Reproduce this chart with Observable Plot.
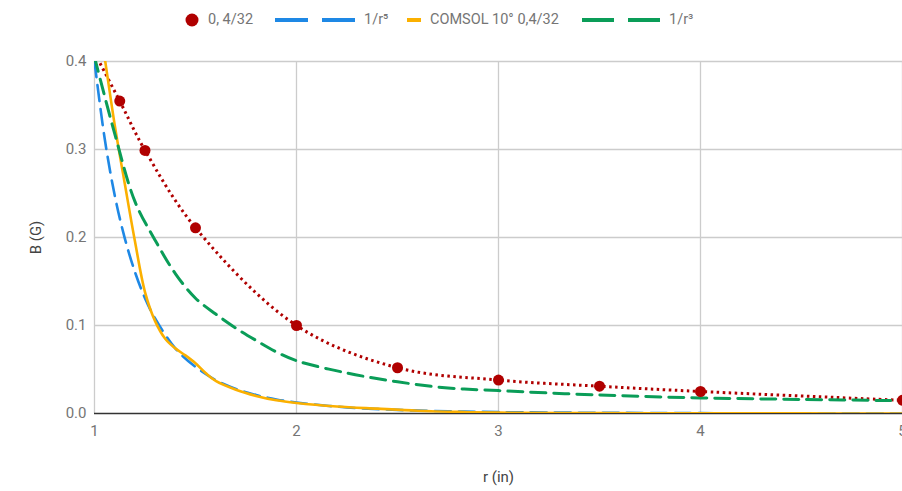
<!DOCTYPE html>
<html>
<head>
<meta charset="utf-8">
<script src="https://cdn.jsdelivr.net/npm/d3@7"></script>
<script src="https://cdn.jsdelivr.net/npm/@observablehq/plot@0.6"></script>
<style>
  html, body { margin: 0; padding: 0; background: #fff; }
  #wrap { position: relative; width: 902px; height: 491px; font-family: Roboto, sans-serif; }
  #legend { position: absolute; left: 0; top: 0; width: 902px; height: 40px; }
  .item { position: absolute; top: 11px; height: 18px; font-size: 14.5px; color: #757575; line-height: 18px; white-space: nowrap; }
  svg [aria-label="x-axis label"] text, svg [aria-label="y-axis label"] text { fill: #444; }
</style>
</head>
<body>
<div id="wrap">
  <div id="chart"></div>
  <div id="legend"></div>
</div>
<script>
// Measured series (red markers)
const rPoints = [1, 1.125, 1.25, 1.5, 2, 2.5, 3, 3.5, 4, 5];
const bPoints = [0.41, 0.355, 0.299, 0.211, 0.100, 0.052, 0.038, 0.031, 0.025, 0.015];

// 1/r^5 curve (blue dashed)
const rBlue = [1, 1.05, 1.1, 1.15, 1.2, 1.25, 1.3, 1.4, 1.5, 1.6, 1.7, 1.8, 1.9, 2, 2.25, 2.5, 2.75, 3, 3.5, 4, 4.5, 5];
const bBlue = [0.400, 0.313, 0.248, 0.199, 0.161, 0.131, 0.108, 0.074, 0.053, 0.038, 0.028, 0.021, 0.016, 0.0125, 0.0069, 0.0041, 0.0025, 0.0016, 0.0008, 0.0004, 0.0002, 0.0001];

// COMSOL curve (orange solid)
const rOrange = [1, 1.05, 1.1, 1.15, 1.2, 1.25, 1.3, 1.35, 1.4, 1.45, 1.5, 1.55, 1.6, 1.7, 1.8, 1.9, 2, 2.2, 2.4, 2.6, 2.8, 3, 3.5, 4, 4.5, 5];
const bOrange = [0.48, 0.405, 0.328, 0.261, 0.196, 0.138, 0.105, 0.085, 0.074, 0.066, 0.057, 0.046, 0.037, 0.027, 0.020, 0.015, 0.012, 0.008, 0.0055, 0.0032, 0.0018, 0.001, 0.0004, 0.0002, 0.0001, 0];

// 1/r^3 curve (green dashed)
const rGreen = [1, 1.1, 1.2, 1.3, 1.4, 1.5, 1.6, 1.7, 1.8, 1.9, 2, 2.25, 2.5, 2.75, 3, 3.5, 4, 4.5, 5];
const bGreen = [0.405, 0.318, 0.241, 0.197, 0.159, 0.131, 0.113, 0.097, 0.083, 0.070, 0.060, 0.046, 0.036, 0.029, 0.026, 0.021, 0.0177, 0.016, 0.0145];

const xTicks = [1, 2, 3, 4, 5];
const yTicks = [0, 0.1, 0.2, 0.3, 0.4];

const seriesNames = ["0, 4/32", "1/r\u2075", "COMSOL 10\u00b0 0,4/32", "1/r\u00b3"];
const seriesColors = ["#b00000", "#1e88e5", "#fbb000", "#0a9d58"];

const zip = (xs, ys) => xs.map((x, i) => ({r: x, b: ys[i]}));
const red = zip(rPoints, bPoints);
const blue = zip(rBlue, bBlue);
const orange = zip(rOrange, bOrange);
const green = zip(rGreen, bGreen);

const chart = Plot.plot({
  width: 902,
  height: 491,
  marginTop: 61,
  marginBottom: 78,
  marginLeft: 94,
  marginRight: 0,
  style: {fontFamily: "Roboto, sans-serif", fontSize: "15px", color: "#757575", background: "transparent", overflow: "visible"},
  x: {domain: [1, 5]},
  y: {domain: [0, 0.4]},
  marks: [
    Plot.gridX(xTicks, {stroke: "#cccccc", strokeOpacity: 1, strokeWidth: 1.3}),
    Plot.gridY(yTicks.slice(1), {stroke: "#cccccc", strokeOpacity: 1, strokeWidth: 1.3}),
    Plot.axisX(xTicks, {tickSize: 0, tickPadding: 12, tickFormat: d3.format("d"), label: "r (in)", labelAnchor: "center", labelOffset: 68, labelArrow: "none"}),
    Plot.axisY(yTicks, {tickSize: 0, tickPadding: 8, tickFormat: d3.format(".1f"), label: "B (G)", labelAnchor: "center", labelOffset: 64, labelArrow: "none"}),
    Plot.ruleY([0], {stroke: "#333", strokeWidth: 1.5}),
    Plot.line(red, {x: "r", y: "b", stroke: seriesColors[0], strokeWidth: 3, strokeDasharray: "2.5 3.5", strokeLinecap: "butt", curve: "catmull-rom", clip: true}),
    Plot.line(blue, {x: "r", y: "b", stroke: seriesColors[1], strokeWidth: 2.6, strokeDasharray: "16 8", curve: "catmull-rom", clip: true}),
    Plot.line(orange, {x: "r", y: "b", stroke: seriesColors[2], strokeWidth: 2.6, curve: "catmull-rom", clip: true}),
    Plot.line(green, {x: "r", y: "b", stroke: seriesColors[3], strokeWidth: 3, strokeDasharray: "15 8", curve: "catmull-rom", clip: true}),
    Plot.dot(red, {x: "r", y: "b", r: 5.5, fill: seriesColors[0], stroke: "none", clip: true})
  ]
});
document.getElementById("chart").appendChild(chart);

// Legend
const legend = d3.select("#legend");
const items = [
  {left: 185, swatch: "dot", w: 14},
  {left: 275, swatch: "dash2", w: 80},
  {left: 407, swatch: "short", w: 14},
  {left: 582, swatch: "dash2", w: 78}
];
items.forEach((it, i) => {
  const div = legend.append("div").attr("class", "item").style("left", it.left + "px");
  const svg = div.append("svg").attr("width", it.w).attr("height", 18)
    .style("vertical-align", "top").style("margin-right", "9px");
  if (it.swatch === "dot") {
    svg.append("circle").attr("cx", 7).attr("cy", 9).attr("r", 6.5).attr("fill", seriesColors[i]);
  } else if (it.swatch === "short") {
    svg.append("line").attr("x1", 0).attr("x2", 14).attr("y1", 9).attr("y2", 9)
      .attr("stroke", seriesColors[i]).attr("stroke-width", 4);
  } else {
    svg.append("line").attr("x1", 0).attr("x2", it.w).attr("y1", 9).attr("y2", 9)
      .attr("stroke", seriesColors[i]).attr("stroke-width", 4).attr("stroke-dasharray", (it.w / 2 - 7) + " 14");
  }
  div.append("span").text(seriesNames[i]);
});
</script>
</body>
</html>
